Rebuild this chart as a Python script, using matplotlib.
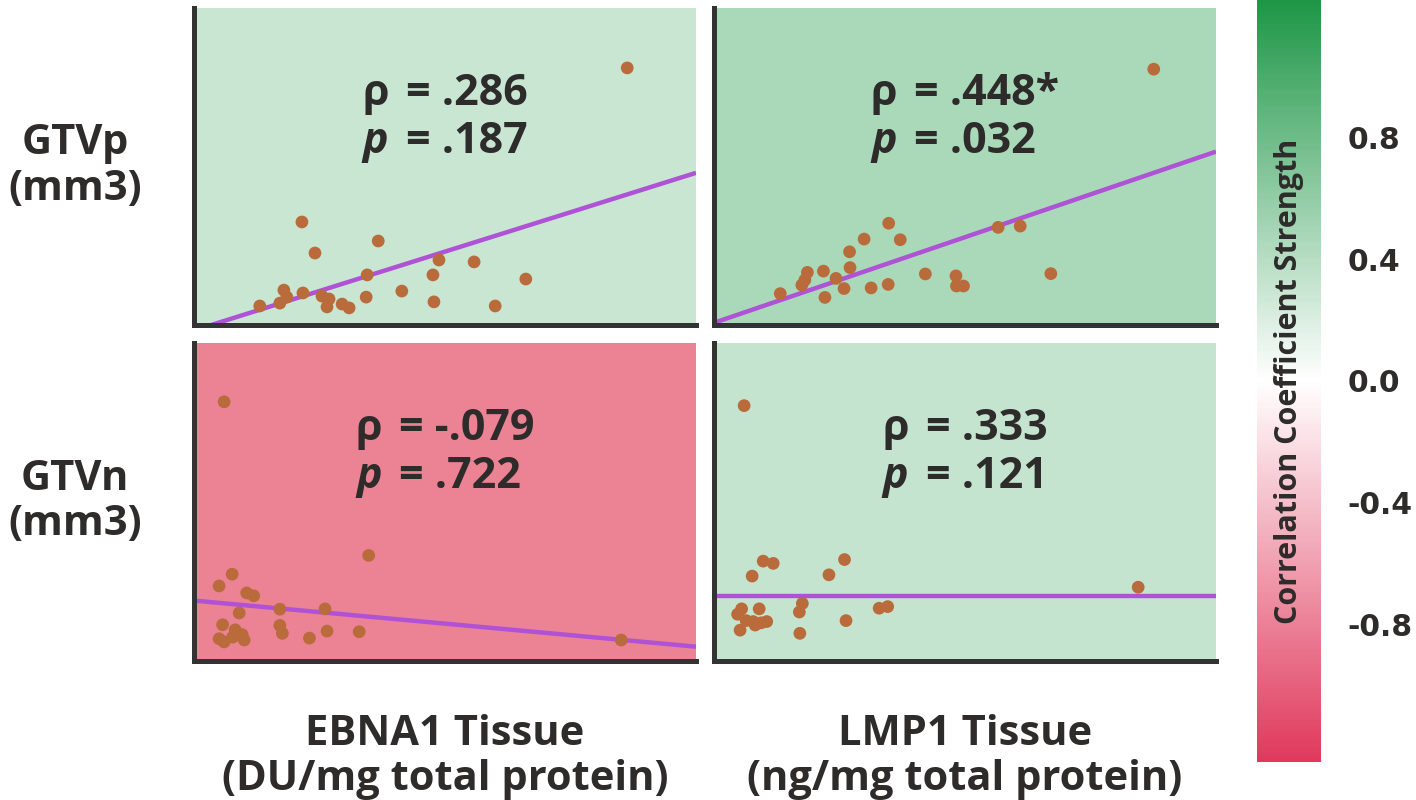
import matplotlib
matplotlib.use("Agg")
import matplotlib.pyplot as plt
import numpy as np
from matplotlib.colors import LinearSegmentedColormap, Normalize
from matplotlib.cm import ScalarMappable

# ---------------- data ----------------
row_labels = ["GTVp\n(mm3)", "GTVn\n(mm3)"]
col_labels = ["EBNA1 Tissue\n(DU/mg total protein)", "LMP1 Tissue\n(ng/mg total protein)"]

rho_text = [".286", ".448*", "-.079", ".333"]
p_text = [".187", ".032", ".722", ".121"]

ebna_gtvp_x = [86.3, 21.5, 36.7, 24.1, 48.8, 55.8, 34.5, 47.6, 66.1, 17.9, 21.7, 41.4,
               18.5, 25.5, 26.9, 34.3, 17.1, 13.1, 29.5, 30.9, 26.5, 47.8, 60.0]
ebna_gtvp_y = [81.1, 32.5, 26.5, 22.7, 20.5, 19.9, 15.8, 15.8, 14.5, 11.0, 10.1, 10.7,
               8.8, 9.1, 8.2, 8.8, 6.9, 6.0, 6.6, 5.4, 5.7, 7.3, 6.0]

lmp_gtvp_x = [87.6, 34.8, 29.9, 37.1, 56.6, 61.0, 27.0, 27.1, 18.6, 21.8, 24.3, 18.1,
              17.5, 25.9, 31.3, 34.7, 42.1, 48.2, 48.3, 49.7, 67.1, 13.2, 22.1]
lmp_gtvp_y = [80.7, 32.1, 27.1, 26.9, 30.8, 31.2, 23.1, 18.1, 16.6, 17.0, 14.7, 14.2,
              12.6, 11.5, 11.7, 12.8, 16.1, 15.5, 12.3, 12.3, 16.2, 9.9, 8.7]

ebna_gtvn_x = [6.0, 34.8, 7.6, 5.0, 10.5, 11.9, 17.1, 26.1, 9.0, 5.7, 17.1, 8.2,
               17.6, 26.5, 32.9, 9.6, 5.0, 7.7, 23.0, 10.0, 6.0, 85.1]
ebna_gtvn_y = [81.5, 33.2, 27.3, 23.6, 21.4, 20.5, 16.3, 16.4, 15.1, 11.4, 11.2, 9.8,
               8.7, 9.4, 9.2, 8.3, 7.0, 7.5, 7.2, 6.6, 6.0, 6.6]

lmp_gtvn_x = [6.0, 26.0, 9.8, 11.8, 7.6, 22.9, 84.5, 17.6, 5.5, 9.0, 17.0, 34.6,
              32.9, 4.7, 7.8, 10.5, 9.4, 6.4, 8.2, 26.3, 5.2, 17.1]
lmp_gtvn_y = [80.3, 31.9, 31.4, 30.7, 26.7, 27.1, 23.2, 18.1, 16.4, 16.4, 15.4, 17.1,
              16.6, 14.7, 12.4, 12.4, 12.0, 12.7, 11.3, 12.7, 9.7, 8.7]

fit_intercept = [-1.7, 0.7, 19.0, 20.5]
fit_slope = [0.497, 0.540, -0.145, 0.0]

cbar_ticks = [0.8, 0.4, 0.0, -0.4, -0.8]
cbar_ticklabels = ["0.8", "0.4", "0.0", "-0.4", "-0.8"]

# ---------------- style ----------------
FONT = "Open Sans"
TXT = "#2e2b2b"
panel_colors = ["#c9e6d3", "#aad9ba", "#ec8394", "#c5e4d0"]
dot_color = "#b96b3b"
line_color = "#b052d6"

fig = plt.figure(figsize=(14.16, 8), dpi=100)
W, H = 1416, 800

def fx(px):
    return px / W

def fy(py):
    return 1 - py / H

panel_boxes = [  # left, top, right, bottom in pixels
    (194, 8, 696, 325),
    (714, 8, 1216, 325),
    (194, 343, 696, 661),
    (714, 343, 1216, 661),
]

xs = [ebna_gtvp_x, lmp_gtvp_x, ebna_gtvn_x, lmp_gtvn_x]
ys = [ebna_gtvp_y, lmp_gtvp_y, ebna_gtvn_y, lmp_gtvn_y]

axes = []
for i, (l, t, r, b) in enumerate(panel_boxes):
    ax = fig.add_axes([fx(l), fy(b), fx(r) - fx(l), fy(t) - fy(b)])
    ax.set_facecolor(panel_colors[i])
    ax.set_xlim(0, 100)
    ax.set_ylim(0, 100)
    for s in ["top", "right"]:
        ax.spines[s].set_visible(False)
    for s in ["left", "bottom"]:
        ax.spines[s].set_color("#333333")
        ax.spines[s].set_linewidth(3.6)
    ax.set_xticks([])
    ax.set_yticks([])
    xl = np.array(ax.get_xlim())
    ax.plot(xl, fit_intercept[i] + fit_slope[i] * xl, color=line_color, lw=3.2,
            zorder=2, solid_capstyle="butt")
    ax.scatter(xs[i], ys[i], s=84, color=dot_color, edgecolors="none", zorder=3,
               clip_on=False)
    axes.append(ax)

# stats text, centred block
renderer = fig.canvas.get_renderer()
GAP = 17  # px between symbol and "="
for i, ax in enumerate(axes):
    kw = dict(fontsize=31, fontweight="bold", color=TXT, family=FONT,
              transform=ax.transAxes, va="baseline")
    y1, y2 = 0.694, 0.543
    s1 = ax.text(0, y1, "ρ", ha="center", **kw)
    s2 = ax.text(0, y2, "p", ha="center", style="italic", **kw)
    r1 = ax.text(0, y1, "= " + rho_text[i], ha="left", **kw)
    r2 = ax.text(0, y2, "= " + p_text[i], ha="left", **kw)
    ws = max(s1.get_window_extent(renderer).width, s2.get_window_extent(renderer).width)
    wr = max(r1.get_window_extent(renderer).width, r2.get_window_extent(renderer).width)
    aw = ax.get_window_extent(renderer).width
    left = 0.5 - (ws + GAP + wr) / 2 / aw
    s1.set_x(left + ws / 2 / aw)
    s2.set_x(left + ws / 2 / aw)
    r1.set_x(left + (ws + GAP) / aw)
    r2.set_x(left + (ws + GAP) / aw)

# row labels
row_centers = [(8 + 325) / 2, (343 + 661) / 2]
for lab, yc in zip(row_labels, row_centers):
    fig.text(fx(75), fy(yc), lab, ha="center", va="center", fontsize=30,
             fontweight="bold", color=TXT, family=FONT, linespacing=1.15)

# column labels
col_centers = [(194 + 696) / 2, (714 + 1216) / 2]
for lab, xc in zip(col_labels, col_centers):
    fig.text(fx(xc), fy(757), lab, ha="center", va="center", fontsize=30,
             fontweight="bold", color=TXT, family=FONT, linespacing=1.15)

# colorbar
cmap = LinearSegmentedColormap.from_list("rw_g", ["#e0395c", "#ffffff", "#1e9646"])
norm = Normalize(-1.25, 1.25)
sm = ScalarMappable(norm=norm, cmap=cmap)
cax = fig.add_axes([fx(1257), fy(762), fx(1321) - fx(1257), fy(0) - fy(762)])
cb = fig.colorbar(sm, cax=cax)
cb.outline.set_visible(False)
cb.set_ticks(cbar_ticks)
cb.set_ticklabels(cbar_ticklabels)
cax.tick_params(length=0, pad=19)
for tl in cax.get_yticklabels():
    tl.set_fontfamily("DejaVu Sans")
    tl.set_fontweight("bold")
    tl.set_fontsize(21.5)
    tl.set_color(TXT)
cax.text(0.5, 0.5, "Correlation Coefficient Strength", rotation=90, ha="center",
         va="center", transform=cax.transAxes, fontsize=22, fontweight="bold",
         color=TXT, family=FONT)

fig.savefig("out.png", dpi=100, facecolor="white")
